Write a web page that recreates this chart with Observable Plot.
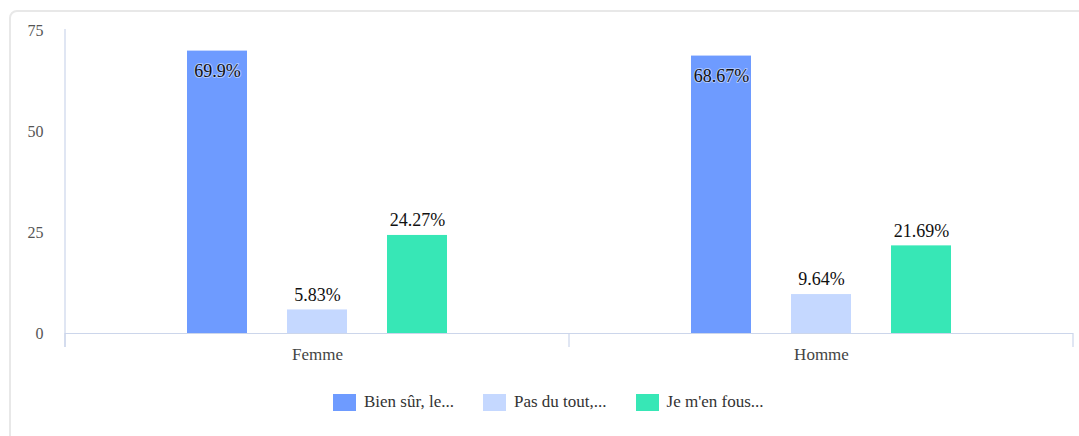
<!DOCTYPE html>
<html>
<head>
<meta charset="utf-8">
<script src="https://cdn.jsdelivr.net/npm/d3@7"></script>
<script src="https://cdn.jsdelivr.net/npm/@observablehq/plot@0.6"></script>
<style>
  html, body { margin: 0; padding: 0; background: #fff; }
  body { width: 1079px; height: 436px; position: relative; overflow: hidden;
         font-family: "Liberation Serif", "Times New Roman", serif; }
  #box { position: absolute; left: 9px; top: 10px; width: 1200px; height: 600px;
         border: 2px solid #e8e8e8; border-radius: 8px; box-sizing: border-box; }
  #chart { position: absolute; left: 0; top: 0; }
  #chart svg text { font-family: "Liberation Serif", "Times New Roman", serif !important; }
  #legend { position: absolute; left: 333px; top: 392px; display: flex; align-items: center;
            font-size: 17px; color: #333; white-space: nowrap; }
  .item { display: flex; align-items: center; margin-right: 29px; }
  .sw { width: 23px; height: 17px; margin-right: 8px; }
</style>
</head>
<body>
<div id="box"></div>
<div id="chart"></div>
<div id="legend"></div>
<script>
const sexes = ["Femme", "Homme"];
const series = ["Bien sûr, le...", "Pas du tout,...", "Je m'en fous..."];
const femme = [69.9, 5.83, 24.27];
const homme = [68.67, 9.64, 21.69];
const colors = ["#6e9bff", "#c5d8ff", "#37e7b6"];
const yTicks = [0, 25, 50, 75];

const values = [femme, homme];
const data = sexes.flatMap((s, i) => series.map((k, j) => ({sex: s, series: k, value: values[i][j]})));

const yMax = 75;
const inside = d => d.value > yMax * 0.85;
const fmt = d => d.value + "%";
const axisColor = "#ccd6eb";
const serif = '"Liberation Serif", "Times New Roman", serif';

const plot = Plot.plot({
  width: 1079,
  height: 370,
  marginLeft: 65,
  marginRight: 6,
  marginTop: 30,
  marginBottom: 37,
  style: {fontFamily: serif, fontSize: "16px", background: "transparent"},
  fx: {domain: sexes, padding: 0, label: null},
  x: {domain: series, paddingInner: 0.403, paddingOuter: 1.204, axis: null},
  y: {domain: [0, yMax], label: null},
  color: {domain: series, range: colors},
  marks: [
    Plot.axisY({ticks: yTicks, tickSize: 0, tickPadding: 22, fontSize: 16, fill: "#555", label: null}),
    Plot.axisFx({anchor: "bottom", tickSize: 0, tickPadding: 14, fontSize: 17, fill: "#444", label: null}),
    Plot.barY(data, {fx: "sex", x: "series", y: "value", fill: "series"}),
    Plot.ruleY([0], {stroke: axisColor, strokeWidth: 1.2}),
    Plot.text(data.filter(d => !inside(d)), {fx: "sex", x: "series", y: "value", text: fmt, dy: -15,
      fontSize: 18, fontFamily: serif, fill: "#111", stroke: "white", strokeWidth: 2, strokeOpacity: 0.6}),
    Plot.text(data.filter(inside), {fx: "sex", x: "series", y: "value", text: fmt, dy: 20,
      fontSize: 18, fontFamily: serif, fill: "#111", stroke: "white", strokeWidth: 2, strokeOpacity: 0.45})
  ]
});

// Axis line and category boundary ticks from the plot's own scales
const fx = plot.scale("fx");
const y = plot.scale("y");
const svg = d3.select(plot.tagName === "svg" ? plot : plot.querySelector("svg"));
const y0 = y.apply(0), yTop = y.apply(yMax);
const bounds = [fx.apply(sexes[0]), ...sexes.map(s => fx.apply(s) + fx.bandwidth)];
const left = bounds[0];
const g = svg.append("g").attr("stroke", axisColor).attr("stroke-width", 1.2);
g.append("line").attr("x1", left).attr("x2", left).attr("y1", yTop - 1).attr("y2", y0 + 14);
for (const b of bounds) g.append("line").attr("x1", b).attr("x2", b).attr("y1", y0).attr("y2", y0 + 14);

document.getElementById("chart").appendChild(plot);

const legend = d3.select("#legend");
series.forEach((s, i) => {
  const it = legend.append("div").attr("class", "item");
  it.append("div").attr("class", "sw").style("background", colors[i]);
  it.append("span").text(s);
});
</script>
</body>
</html>
